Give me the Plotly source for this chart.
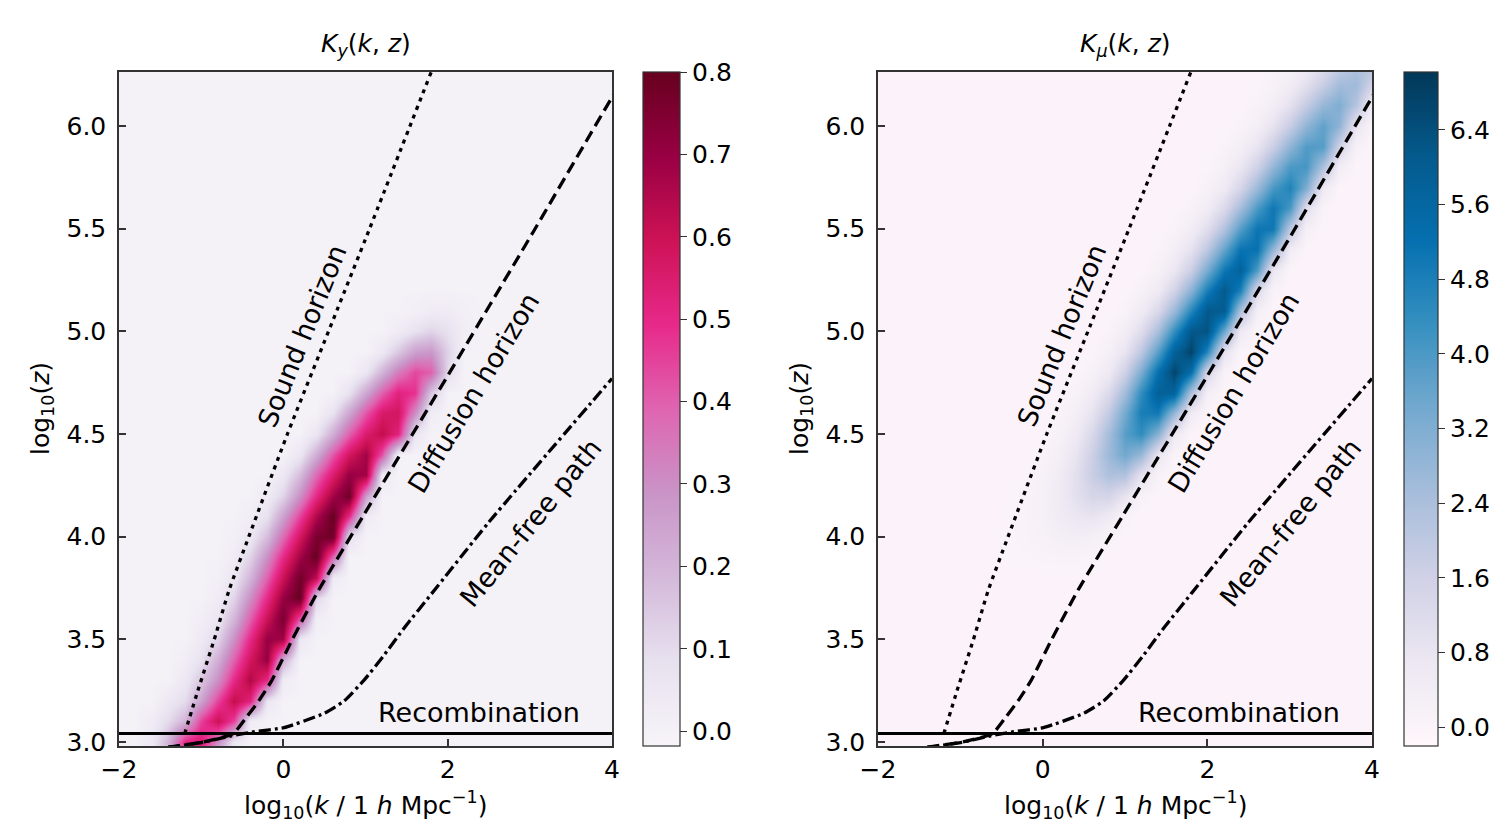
import plotly.graph_objects as go

# ---------------- grid of the kernel maps (log10 k, log10 z) ----------------
k_nodes = [round(-2.0 + 0.2 * i, 1) for i in range(31)]
z_nodes = [round(2.9 + 0.1 * i, 1) for i in range(36)]

# ---------------- K_y(k,z) : rows of non-zero values (estimated) ----------------
ky_row_z = [2.9, 3.0, 3.1, 3.2, 3.3, 3.4, 3.5, 3.6, 3.7, 3.8, 3.9, 4.0, 4.1,
            4.2, 4.3, 4.4, 4.5, 4.6, 4.7, 4.8, 4.9, 5.0, 5.1]
ky_row_k0 = [-1.6, -1.6, -1.6, -1.4, -1.2, -1.2, -1.0, -1.0, -0.8, -0.8, -0.6,
             -0.6, -0.4, -0.2, 0.0, 0.2, 0.4, 0.6, 0.8, 1.0, 1.2, 1.4, 1.6]
ky_row_vals = [
    [0.03, 0.20, 0.45, 0.40, 0.10],
    [0.05, 0.20, 0.50, 0.55, 0.30, 0.05],
    [0.03, 0.10, 0.20, 0.45, 0.60, 0.45, 0.03],
    [0.05, 0.10, 0.25, 0.45, 0.62, 0.52, 0.06],
    [0.05, 0.15, 0.30, 0.50, 0.65, 0.50, 0.03],
    [0.02, 0.08, 0.22, 0.40, 0.58, 0.70, 0.22],
    [0.04, 0.12, 0.30, 0.50, 0.70, 0.68, 0.05],
    [0.02, 0.06, 0.20, 0.40, 0.60, 0.76, 0.42, 0.02],
    [0.03, 0.12, 0.30, 0.50, 0.70, 0.80, 0.12],
    [0.01, 0.06, 0.20, 0.40, 0.60, 0.78, 0.62, 0.03],
    [0.03, 0.12, 0.30, 0.50, 0.68, 0.80, 0.38],
    [0.01, 0.05, 0.18, 0.38, 0.58, 0.76, 0.78, 0.08],
    [0.02, 0.08, 0.25, 0.45, 0.65, 0.80, 0.50, 0.03],
    [0.03, 0.12, 0.30, 0.50, 0.68, 0.78, 0.26],
    [0.05, 0.18, 0.38, 0.55, 0.70, 0.68, 0.04],
    [0.06, 0.22, 0.42, 0.58, 0.68, 0.42],
    [0.06, 0.22, 0.40, 0.55, 0.62, 0.52, 0.06],
    [0.08, 0.24, 0.42, 0.56, 0.58, 0.30, 0.02],
    [0.08, 0.24, 0.40, 0.52, 0.48, 0.15],
    [0.06, 0.20, 0.34, 0.44, 0.40, 0.10],
    [0.05, 0.15, 0.26, 0.28, 0.12],
    [0.03, 0.08, 0.12, 0.08, 0.02],
    [0.01, 0.03, 0.03, 0.01],
]

# ---------------- K_mu(k,z) : rows of non-zero values (estimated) ----------------
kmu_row_z = [3.9, 4.0, 4.1, 4.2, 4.3, 4.4, 4.5, 4.6, 4.7, 4.8, 4.9, 5.0, 5.1,
             5.2, 5.3, 5.4, 5.5, 5.6, 5.7, 5.8, 5.9, 6.0, 6.1, 6.2, 6.3, 6.4]
kmu_row_k0 = [-0.8, -0.6, -0.6, -0.4, -0.2, 0.0, 0.0, 0.2, 0.4, 0.6, 0.6, 0.8,
              1.0, 1.2, 1.2, 1.4, 1.6, 1.8, 1.8, 2.0, 2.2, 2.4, 2.4, 2.6, 2.8, 3.0]
kmu_row_vals = [
    [0.00, 0.01, 0.02, 0.04, 0.07, 0.09, 0.09, 0.04, 0.01],
    [0.01, 0.04, 0.10, 0.19, 0.31, 0.39, 0.31, 0.08, 0.01],
    [0.00, 0.04, 0.11, 0.26, 0.50, 0.75, 0.86, 0.59, 0.12],
    [0.02, 0.10, 0.26, 0.56, 0.99, 1.41, 1.44, 0.82, 0.14],
    [0.05, 0.20, 0.50, 1.03, 1.75, 2.33, 2.28, 0.90, 0.13],
    [0.10, 0.32, 0.84, 1.68, 2.70, 3.43, 2.73, 0.74, 0.07],
    [0.00, 0.18, 0.55, 1.33, 2.53, 3.82, 4.42, 3.04, 0.60],
    [0.06, 0.33, 0.88, 1.93, 3.41, 4.84, 4.95, 2.81, 0.50],
    [0.13, 0.50, 1.26, 2.58, 4.41, 5.86, 5.73, 2.27, 0.32],
    [0.20, 0.61, 1.63, 3.26, 5.24, 6.66, 5.30, 1.43, 0.14],
    [0.00, 0.28, 0.84, 2.03, 3.85, 5.81, 6.72, 4.62, 0.91],
    [0.07, 0.42, 1.12, 2.45, 4.34, 6.16, 6.30, 3.57, 0.63],
    [0.13, 0.53, 1.32, 2.71, 4.62, 6.14, 6.01, 2.38, 0.33],
    [0.19, 0.56, 1.49, 2.98, 4.77, 6.08, 4.84, 1.30, 0.12],
    [0.00, 0.23, 0.70, 1.70, 3.30, 5.00, 5.80, 4.00, 0.75],
    [0.06, 0.33, 0.90, 2.00, 3.60, 5.10, 5.20, 2.90, 0.50],
    [0.10, 0.42, 1.08, 2.25, 3.85, 5.10, 5.00, 2.00, 0.26],
    [0.15, 0.46, 1.25, 2.50, 4.00, 5.05, 4.05, 1.10, 0.10],
    [0.00, 0.19, 0.58, 1.42, 2.70, 4.05, 4.70, 3.25, 0.60],
    [0.04, 0.27, 0.73, 1.60, 2.85, 4.00, 4.10, 2.35, 0.39],
    [0.08, 0.33, 0.84, 1.74, 2.95, 3.92, 3.85, 1.55, 0.20],
    [0.11, 0.33, 0.90, 1.82, 2.90, 3.70, 2.95, 0.80, 0.07],
    [0.00, 0.13, 0.40, 0.97, 1.84, 2.78, 3.20, 2.20, 0.42],
    [0.03, 0.17, 0.46, 1.01, 1.80, 2.55, 2.62, 1.50],
    [0.05, 0.19, 0.49, 1.00, 1.72, 2.30, 2.25],
    [0.06, 0.18, 0.48, 0.96, 1.54, 1.96],
]

# ---------------- characteristic scales (curves) ----------------
sound_k = [-1.20, -1.04, -0.84, -0.66, -0.42, 0.05, 0.55, 1.05, 1.80]
sound_z = [3.041, 3.25, 3.50, 3.74, 4.00, 4.50, 5.00, 5.50, 6.263]

diff_k = [-1.40, -1.31, -0.97, -0.61, -0.45, -0.30, -0.14, 0.11, 0.43, 0.97, 1.98, 3.05, 4.00, 4.19]
diff_z = [2.975, 2.98, 3.00, 3.041, 3.12, 3.20, 3.30, 3.50, 3.74, 4.10, 4.77, 5.49, 6.14, 6.263]

mfp_k = [-1.40, -1.28, -0.96, -0.63, -0.35, 0.01, 0.50, 0.74, 0.98, 1.22, 1.48, 1.80, 2.50, 4.00]
mfp_z = [2.975, 2.98, 3.00, 3.03, 3.05, 3.07, 3.14, 3.20, 3.30, 3.42, 3.56, 3.72, 4.07, 4.77]

recomb_z = 3.041

# labels
titles = ["<i>K</i><sub><i>y</i></sub>(<i>k</i>, <i>z</i>)",
          "<i>K</i><sub><i>μ</i></sub>(<i>k</i>, <i>z</i>)"]
xlabel = "log<sub>10</sub>(<i>k</i> / 1 <i>h</i> Mpc<sup>−1</sup>)"
ylabel = "log<sub>10</sub>(<i>z</i>)"
curve_labels = ["Sound horizon", "Diffusion horizon", "Mean-free path", "Recombination"]
curve_label_k = [0.23, 2.32, 3.01, 3.63]
curve_label_z = [4.98, 4.70, 4.07, 3.146]
curve_label_angle = [-68, -59, -51, 0]

ky_ticks = [0.0, 0.1, 0.2, 0.3, 0.4, 0.5, 0.6, 0.7, 0.8]
kmu_ticks = [0.0, 0.8, 1.6, 2.4, 3.2, 4.0, 4.8, 5.6, 6.4]


def build_grid(row_z, row_k0, row_vals):
    grid = [[0.0 for _ in k_nodes] for _ in z_nodes]
    for zz, k0, vals in zip(row_z, row_k0, row_vals):
        iz = z_nodes.index(round(zz, 1))
        ik = k_nodes.index(round(k0, 1))
        for j, v in enumerate(vals):
            if ik + j < len(k_nodes):
                grid[iz][ik + j] = v
    return grid


ky_grid = build_grid(ky_row_z, ky_row_k0, ky_row_vals)
kmu_grid = build_grid(kmu_row_z, kmu_row_k0, kmu_row_vals)

W, H = 1508, 828
OFF = 8  # page body margin
ML, MR, MT, MB = 40, 20, 20, 20
PW, PH = W - ML - MR, H - MT - MB


def px(xp):
    return (xp - OFF - ML) / PW


def py(yp):
    return (H - MB - (yp - OFF)) / PH


FONT = "DejaVu Sans"
ax_top, ax_bot = 72, 746
panels = [
    dict(x0=119, x1=612, cb_x=643, cb_th=37, grid=ky_grid, cs="PuRd",
         zmin=-0.018, zmax=0.80, ticks=ky_ticks, fmt=".1f"),
    dict(x0=878, x1=1372, cb_x=1404, cb_th=34, grid=kmu_grid, cs="PuBu",
         zmin=-0.2, zmax=7.02, ticks=kmu_ticks, fmt=".1f"),
]

fig = go.Figure()
layout_axes = {}
annotations = []
shapes = []

for i, p in enumerate(panels):
    xa = "x" if i == 0 else "x2"
    ya = "y" if i == 0 else "y2"
    xname = "xaxis" if i == 0 else "xaxis2"
    yname = "yaxis" if i == 0 else "yaxis2"
    fig.add_trace(go.Heatmap(
        x=k_nodes, y=z_nodes, z=p["grid"], colorscale=p["cs"],
        zmin=p["zmin"], zmax=p["zmax"], zsmooth="best", hoverinfo="skip",
        xaxis=xa, yaxis=ya,
        colorbar=dict(
            x=px(p["cb_x"]), xanchor="left", xpad=0, ypad=0,
            y=py((ax_top + ax_bot) / 2), yanchor="middle",
            len=ax_bot - ax_top, lenmode="pixels",
            thickness=p["cb_th"], thicknessmode="pixels",
            outlinewidth=1.2, outlinecolor="#333",
            tickvals=p["ticks"], tickformat=p["fmt"],
            ticks="outside", ticklen=7, tickwidth=1.3, tickcolor="#333",
            tickfont=dict(family=FONT, size=25, color="black"),
        ),
    ))
    line_specs = [
        (sound_k, sound_z, "4px,5px"),
        (diff_k, diff_z, "12px,6px"),
        (mfp_k, mfp_z, "12px,4px,3px,4px"),
    ]
    for kk, zz, dash in line_specs:
        fig.add_trace(go.Scatter(
            x=kk, y=zz, mode="lines", xaxis=xa, yaxis=ya, showlegend=False,
            hoverinfo="skip",
            line=dict(color="black", width=3.3, dash=dash, shape="spline", smoothing=0.5),
        ))
    shapes.append(dict(type="line", xref=f"{xa} domain", x0=0, x1=1, yref=ya,
                       y0=recomb_z, y1=recomb_z, line=dict(color="black", width=3)))

    axis_common = dict(showline=True, mirror=True, linecolor="#333", linewidth=1.5,
                       ticks="inside", ticklen=7, tickwidth=1.5, tickcolor="#333",
                       showgrid=False, zeroline=False, automargin=False,
                       tickfont=dict(family=FONT, size=25, color="black"))
    layout_axes[xname] = dict(domain=[px(p["x0"]), px(p["x1"])], range=[-2, 4],
                              tickvals=[-2, 0, 2, 4], anchor=ya, **axis_common)
    layout_axes[yname] = dict(domain=[py(ax_bot), py(ax_top)],
                              range=[2.9805, 6.263], tickvals=[3.0, 3.5, 4.0, 4.5, 5.0, 5.5, 6.0],
                              tickformat=".1f", anchor=xa, ticklabelstandoff=6, **axis_common)

    cxp = (p["x0"] + p["x1"]) / 2
    annotations.append(dict(text=titles[i], xref="paper", yref="paper", x=px(cxp),
                            y=py(45), xanchor="center", yanchor="middle",
                            showarrow=False, font=dict(family=FONT, size=25, color="black")))
    annotations.append(dict(text=xlabel, xref="paper", yref="paper", x=px(cxp),
                            y=py(805), xanchor="center", yanchor="middle",
                            showarrow=False, font=dict(family=FONT, size=25, color="black")))
    annotations.append(dict(text=ylabel, xref="paper", yref="paper",
                            x=px(p["x0"] - 77), y=py(409), textangle=-90,
                            xanchor="center", yanchor="middle",
                            showarrow=False, font=dict(family=FONT, size=25, color="black")))
    for t, kx, zy, ang in zip(curve_labels, curve_label_k, curve_label_z, curve_label_angle):
        annotations.append(dict(text=t, xref=xa, yref=ya, x=kx, y=zy, textangle=ang,
                                xanchor="right" if ang == 0 else "center",
                                yanchor="middle", showarrow=False,
                                font=dict(family=FONT, size=27, color="black")))

fig.update_layout(
    width=W, height=H, autosize=False,
    margin=dict(l=ML, r=MR, t=MT, b=MB),
    paper_bgcolor="white", plot_bgcolor="white",
    showlegend=False,
    annotations=annotations, shapes=shapes,
    **layout_axes,
)

fig.write_html("out.html")
